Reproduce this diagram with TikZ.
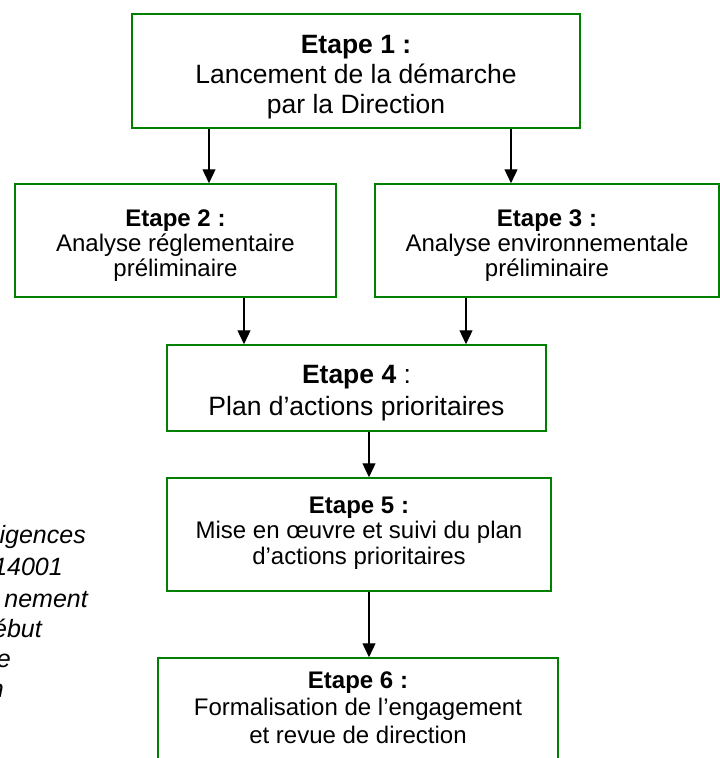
\documentclass[tikz,border=0pt]{standalone}
\usepackage{fontspec}
\setmainfont{Liberation Sans}
\usetikzlibrary{arrows.meta,positioning}
\definecolor{vertcadre}{RGB}{0,128,0}
\tikzset{etape/.style={draw=vertcadre, line width=1.5pt, align=center, inner sep=0pt,
    font=\fontsize{24}{25}\selectfont},
  grand/.style={font=\fontsize{26.5}{30}\selectfont},
  fleche/.style={-{Triangle[width=13pt,length=14pt]}, line width=1.3pt},
  marge/.style={font=\fontsize{25}{28}\selectfont\itshape, inner sep=0pt, anchor=base east}}

\begin{document}
\begin{tikzpicture}[x=1pt, y=-1pt]
  \useasboundingbox (0,0) rectangle (720,758);
  % Les etapes
  \node [etape, grand, minimum width=448pt, minimum height=114pt] (e1) at (356,71)
  {\rule{0pt}{30pt}\textbf{Etape 1 :}\\Lancement de la démarche\\par la Direction};
  \node [etape, minimum width=321pt, minimum height=113pt] (e2) at (175.5,240.5)
  {\rule{0pt}{26pt}\textbf{Etape 2 :}\\Analyse réglementaire\\préliminaire};
  \node [etape, minimum width=344pt, minimum height=113pt] (e3) at (547,240.5)
  {\rule{0pt}{26pt}\textbf{Etape 3 :}\\Analyse environnementale\\préliminaire};
  \node [etape, font=\fontsize{26.5}{32}\selectfont, minimum width=379pt, minimum height=86pt] (e4) at (356.5,388)
  {\rule{0pt}{28pt}\textbf{Etape 4} :\\Plan d’actions prioritaires};
  \node [etape, font=\fontsize{24}{25.5}\selectfont, minimum width=384pt, minimum height=113pt] (e5) at (359,534.5)
  {\textbf{Etape 5 :}\\Mise en œuvre et suivi du plan\\d’actions prioritaires\rule[-8pt]{0pt}{8pt}};
  \node [etape, font=\fontsize{24}{27.5}\selectfont, minimum width=400pt, minimum height=113pt] (e6) at (358,714.5)
  {\textbf{Etape 6 :}\\Formalisation de l’engagement\\et revue de direction\rule[-14pt]{0pt}{14pt}};
  % Les fleches
  \draw [fleche] (e1.south -| 209,0) -- (e2.north -| 209,0);
  \draw [fleche] (e1.south -| 511,0) -- (e3.north -| 511,0);
  \draw [fleche] (e2.south -| 244,0) -- (e4.north -| 244,0);
  \draw [fleche] (e3.south -| 466,0) -- (e4.north -| 466,0);
  \draw [fleche] (e4.south -| 369,0) -- (e5.north -| 369,0);
  \draw [fleche] (e5.south -| 369,0) -- (e6.north -| 369,0);
  % Texte coupe a gauche
  \node [marge] (m1) at (86,543) {igences};
  \node [marge] (m2) at (63,575) {14001};
  \node [marge] (m3) at (88,607) {nement};
  \node [marge] (m4) at (42,637) {ébut};
  \node [marge] (m5) at (11,667) {e};
  \node [marge] (m6) at (4,697) {n};
\end{tikzpicture}
\end{document}
